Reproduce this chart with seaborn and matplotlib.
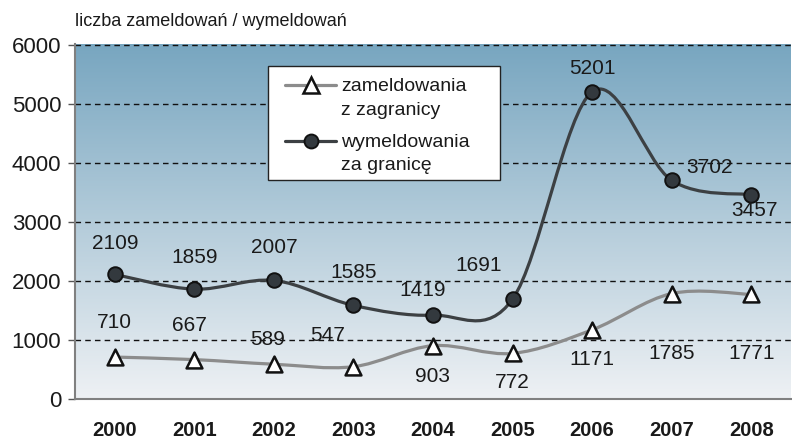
import numpy as np
import pandas as pd
import matplotlib.pyplot as plt
import seaborn as sns
from matplotlib.path import Path
from matplotlib.patches import PathPatch, Rectangle
from matplotlib.lines import Line2D

# --- dane ---
years = ['2000', '2001', '2002', '2003', '2004', '2005', '2006', '2007', '2008']
zameldowania = [710, 667, 589, 547, 903, 772, 1171, 1785, 1771]
wymeldowania = [2109, 1859, 2007, 1585, 1419, 1691, 5201, 3702, 3457]
y_ticks = [0, 1000, 2000, 3000, 4000, 5000, 6000]
axis_title = 'liczba zameldowań / wymeldowań'
label_zam = ['zameldowania', 'z zagranicy']
label_wym = ['wymeldowania', 'za granicę']

# przesunięcia etykiet (px: dx, dy w górę)
zam_offsets = [(0, 35), (-5, 34), (-6, 25), (-26, 31), (0, -31), (0, -29), (0, -30), (0, -60), (0, -59)]
wym_offsets = [(0, 31), (0, 32), (0, 33), (0, 33), (-10, 25), (-34, 34), (0, 23), (38, 13), (3, -16)]

ZAM_COLOR = '#8c8c8c'
WYM_COLOR = '#3c4043'
TXT = '#1a1a1a'


def smooth_path(xs, ys):
    # wygładzona linia jak w Excelu (krzywe Beziera)
    n = len(xs)
    verts = [(xs[0], ys[0])]
    codes = [Path.MOVETO]
    for i in range(n - 1):
        a = max(i - 1, 0)
        b = min(i + 2, n - 1)
        c1 = (xs[i] + (xs[i + 1] - xs[a]) / 6, ys[i] + (ys[i + 1] - ys[a]) / 6)
        c2 = (xs[i + 1] - (xs[b] - xs[i]) / 6, ys[i + 1] - (ys[b] - ys[i]) / 6)
        verts += [c1, c2, (xs[i + 1], ys[i + 1])]
        codes += [Path.CURVE4] * 3
    return Path(verts, codes)


def main():
    sns.set_style('white')
    plt.rcParams['font.family'] = ['Liberation Sans', 'DejaVu Sans']

    df = pd.DataFrame({'rok': years, 'zam': zameldowania, 'wym': wymeldowania})
    df['x'] = np.arange(len(df))

    fig = plt.figure(figsize=(7.92, 4.41), dpi=100)
    ax = fig.add_axes([75 / 792, 42 / 441, 716 / 792, 355 / 441])

    # tło z gradientem
    top = np.array([120, 166, 192]) / 255
    bottom = np.array([238, 241, 244]) / 255
    t = np.linspace(0, 1, 256)[:, None, None]
    grad = bottom + t * (top - bottom)
    ax.imshow(np.repeat(grad, 2, axis=1), extent=[-0.5, 8.5, 0, 6000],
              origin='lower', aspect='auto', zorder=0, interpolation='bilinear')

    # linie wygładzone
    ax.add_patch(PathPatch(smooth_path(df['x'].values, df['zam'].values), fill=False,
                           edgecolor=ZAM_COLOR, lw=2.3, zorder=3, capstyle='round'))
    ax.add_patch(PathPatch(smooth_path(df['x'].values, df['wym'].values), fill=False,
                           edgecolor=WYM_COLOR, lw=2.3, zorder=3, capstyle='round'))

    # markery
    sns.scatterplot(data=df, x='x', y='zam', marker='^', s=130, color='white',
                    edgecolor='#111111', linewidth=1.8, zorder=4, ax=ax, legend=False)
    sns.scatterplot(data=df, x='x', y='wym', marker='o', s=110, color='#33393e',
                    edgecolor='#111111', linewidth=1.4, zorder=4, ax=ax, legend=False)

    # etykiety wartości
    for xi, v, (dx, dy) in zip(df['x'], df['zam'], zam_offsets):
        ax.annotate(str(v), (xi, v), xytext=(dx * 0.72, dy * 0.72), textcoords='offset points',
                    ha='center', va='center', fontsize=15, color=TXT, zorder=5)
    for xi, v, (dx, dy) in zip(df['x'], df['wym'], wym_offsets):
        ax.annotate(str(v), (xi, v), xytext=(dx * 0.72, dy * 0.72), textcoords='offset points',
                    ha='center', va='center', fontsize=15, color=TXT, zorder=5)

    # osie
    ax.set_xlim(-0.5, 8.5)
    ax.set_ylim(0, 6010)
    ax.set_yticks(y_ticks)
    ax.set_yticklabels([str(v) for v in y_ticks], fontsize=16, color=TXT)
    ax.set_xticks(df['x'])
    ax.set_xticklabels(years, fontsize=14.5, fontweight='bold', color=TXT)
    ax.set_xticks(np.arange(-0.5, 9, 1), minor=True)
    ax.tick_params(axis='x', which='major', length=0, pad=16)
    ax.tick_params(axis='x', which='minor', length=6, width=1, color='#777777', direction='out')
    ax.tick_params(axis='y', length=5, width=1, color='#555555', direction='out', pad=5, left=True)
    ax.set_xlabel('')
    ax.set_ylabel('')

    ax.yaxis.grid(True, color='#111111', linestyle=(0, (4, 3)), lw=1.0)
    ax.set_axisbelow(True)
    for s in ['top', 'right']:
        ax.spines[s].set_visible(False)
    for s in ['left', 'bottom']:
        ax.spines[s].set_color('#808080')
        ax.spines[s].set_linewidth(1.5)
        ax.spines[s].set_zorder(2.6)

    fig.text(75 / 792, 1 - 22 / 441, axis_title, fontsize=13, color=TXT, va='center', ha='left')

    # legenda
    def ax_x(px):
        return (px - 75) / 716

    def ax_y(py):
        return (399 - py) / 355

    ax.add_patch(Rectangle((ax_x(268), ax_y(180)), ax_x(500) - ax_x(268), ax_y(66) - ax_y(180),
                           transform=ax.transAxes, facecolor='white', edgecolor='#222222',
                           lw=1.0, zorder=6))
    entries = [
        (label_zam, ZAM_COLOR, dict(marker='^', markersize=11, markerfacecolor='white',
                                    markeredgecolor='#111111', markeredgewidth=1.8), 85, (91, 115)),
        (label_wym, WYM_COLOR, dict(marker='o', markersize=10, markerfacecolor='#33393e',
                                    markeredgecolor='#111111', markeredgewidth=1.4), 141, (147, 170)),
    ]
    for lines, col, mk, hy, bases in entries:
        ax.add_line(Line2D([ax_x(285), ax_x(336)], [ax_y(hy), ax_y(hy)], color=col, lw=2.3,
                           transform=ax.transAxes, zorder=7))
        ax.add_line(Line2D([ax_x(310.5)], [ax_y(hy)], transform=ax.transAxes, zorder=8,
                           linestyle='none', **mk))
        for txt, by in zip(lines, bases):
            ax.text(ax_x(341), ax_y(by), txt, transform=ax.transAxes, fontsize=14,
                    color=TXT, ha='left', va='baseline', zorder=8)

    fig.savefig('out.png', dpi=100)
    plt.close('all')


if __name__ == '__main__':
    main()
